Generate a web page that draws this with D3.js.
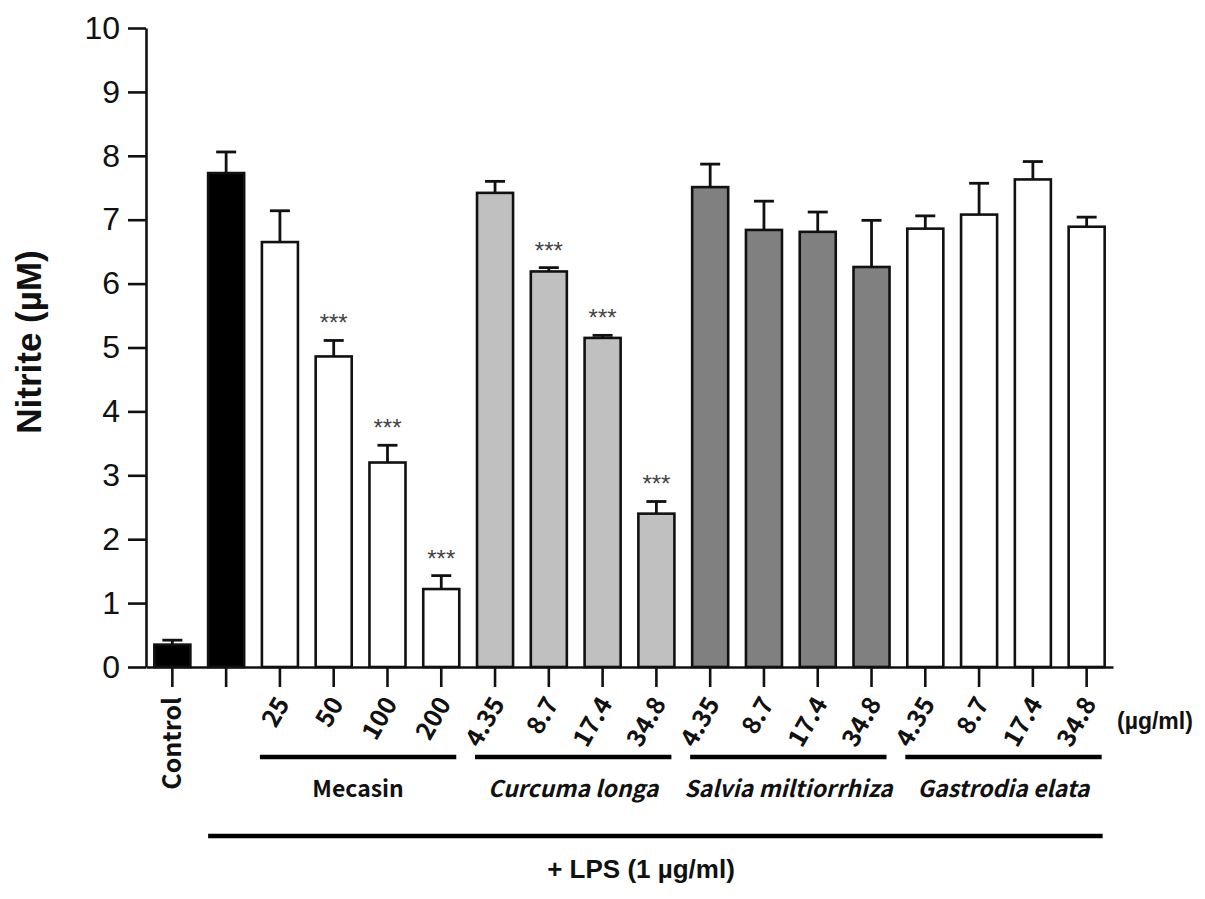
<!DOCTYPE html>
<html>
<head>
<meta charset="utf-8">
<script src="https://cdn.jsdelivr.net/npm/d3@7"></script>
<style>
  body { margin: 0; background: #fff; }
  svg { display: block; }
</style>
</head>
<body>
<script>
// bars, left to right
var keys = ["ctrl", "lps", "m25", "m50", "m100", "m200",
            "c4", "c8", "c17", "c34", "s4", "s8", "s17", "s34",
            "g4", "g8", "g17", "g34"];
var doseLabels = ["Control", "", "25", "50", "100", "200",
                  "4.35", "8.7", "17.4", "34.8", "4.35", "8.7", "17.4", "34.8",
                  "4.35", "8.7", "17.4", "34.8"];
var means = [0.35, 7.73, 6.65, 4.86, 3.20, 1.22,
             7.42, 6.19, 5.15, 2.40, 7.51, 6.84, 6.81, 6.26,
             6.86, 7.08, 7.63, 6.89];
var sems = [0.07, 0.33, 0.49, 0.25, 0.27, 0.21,
            0.18, 0.06, 0.04, 0.19, 0.36, 0.45, 0.31, 0.73,
            0.20, 0.49, 0.28, 0.15];
var fills = ["#000", "#000", "#fff", "#fff", "#fff", "#fff",
             "#c0c0c0", "#c0c0c0", "#c0c0c0", "#c0c0c0",
             "#808080", "#808080", "#808080", "#808080",
             "#fff", "#fff", "#fff", "#fff"];
var stars = ["", "", "", "***", "***", "***", "", "***", "***", "***",
             "", "", "", "", "", "", "", ""];
var yTicks = [0, 1, 2, 3, 4, 5, 6, 7, 8, 9, 10];

var groups = [
  {name: "Mecasin", first: "m25", last: "m200"},
  {name: "Curcuma longa", first: "c4", last: "c34"},
  {name: "Salvia miltiorrhiza", first: "s4", last: "s34"},
  {name: "Gastrodia elata", first: "g4", last: "g34"}
];

var svg = d3.select("body")
      .append("svg")
      .attr("width", 1205)
      .attr("height", 899)

var x = d3.scaleBand()
    .domain(keys)
    .range([146, 1113])
    .paddingInner(0.33)
    .paddingOuter(0.155);

var y = d3.scaleLinear()
    .domain([0, 10])
    .range([667, 28]);

var labelFont = "'Noto Sans CJK KR', 'Noto Sans', sans-serif";
var axisFont = "'Liberation Sans', Arial, sans-serif";

// bars
svg.append("g")
  .selectAll("rect")
  .data(keys)
  .enter().append("rect")
  .attr("x", function(d) { return x(d); })
  .attr("y", function(d, i) { return y(means[i]); })
  .attr("width", x.bandwidth())
  .attr("height", function(d, i) { return y(0) - y(means[i]); })
  .attr("fill", function(d, i) { return fills[i]; })
  .attr("stroke", "#111")
  .attr("stroke-width", 2.6);

// error bars (upper only)
var err = svg.append("g")
  .attr("stroke", "#111")
  .attr("stroke-width", 2.8);
keys.forEach(function(k, i) {
  var cx = x(k) + x.bandwidth() / 2;
  var top = y(means[i] + sems[i]);
  err.append("line")
    .attr("x1", cx).attr("x2", cx)
    .attr("y1", y(means[i])).attr("y2", top);
  err.append("line")
    .attr("x1", cx - 10).attr("x2", cx + 10)
    .attr("y1", top).attr("y2", top);
  if (stars[i]) {
    svg.append("text")
      .attr("x", cx)
      .attr("y", top - 9)
      .attr("text-anchor", "middle")
      .style("font-family", axisFont)
      .style("font-size", "24px")
      .attr("fill", "#444")
      .text(stars[i]);
  }
});

// y axis
var yAxis = svg.append("g")
  .attr("transform", "translate(146,0)")
  .call(d3.axisLeft(y).tickValues(yTicks).tickSize(18).tickPadding(8).tickSizeOuter(0));
yAxis.select(".domain").attr("stroke", "#111").attr("stroke-width", 2.6);
yAxis.selectAll(".tick line").attr("stroke", "#111").attr("stroke-width", 2.6);
yAxis.selectAll(".tick text")
  .style("font-family", axisFont)
  .style("font-size", "32px")
  .attr("fill", "#111");

// x axis
var xAxis = svg.append("g")
  .attr("transform", "translate(0,667)")
  .call(d3.axisBottom(x).tickSize(20).tickSizeOuter(0).tickFormat(""));
xAxis.select(".domain").attr("stroke", "#111").attr("stroke-width", 2.6);
xAxis.selectAll(".tick line").attr("stroke", "#111").attr("stroke-width", 2.6);

// dose labels
keys.forEach(function(k, i) {
  if (!doseLabels[i]) return;
  var cx = x(k) + x.bandwidth() / 2;
  var t = svg.append("text")
    .attr("text-anchor", "end")
    .attr("dy", "0.35em")
    .style("font-family", labelFont)
    .style("font-weight", "bold")
    .style("font-size", "25px")
    .attr("fill", "#111")
    .text(doseLabels[i]);
  if (i === 0) {
    t.attr("transform", "translate(" + cx + ",697) rotate(-90)");
  } else {
    t.attr("transform", "translate(" + (cx + 3) + ",699) rotate(-60)");
  }
});

svg.append("text")
  .attr("x", 1117)
  .attr("y", 729)
  .style("font-family", axisFont)
  .style("font-weight", "bold")
  .style("font-size", "23px")
  .attr("fill", "#111")
  .text("(µg/ml)");

// group brackets
groups.forEach(function(g) {
  var x1 = x(g.first) - 2;
  var x2 = x(g.last) + x.bandwidth() - 3;
  svg.append("line")
    .attr("x1", x1).attr("x2", x2)
    .attr("y1", 757).attr("y2", 757)
    .attr("stroke", "#000")
    .attr("stroke-width", 4.5);
  svg.append("text")
    .attr("x", (x1 + x2) / 2)
    .attr("y", 797)
    .attr("text-anchor", "middle")
    .style("font-family", labelFont)
    .style("font-weight", "bold")
    .style("font-style", g.name === "Mecasin" ? "normal" : "italic")
    .style("font-size", "23px")
    .attr("fill", "#111")
    .text(g.name);
});

// LPS bracket
var lx1 = x("lps");
var lx2 = x("g34") + x.bandwidth() - 2;
svg.append("line")
  .attr("x1", lx1).attr("x2", lx2)
  .attr("y1", 836).attr("y2", 836)
  .attr("stroke", "#000")
  .attr("stroke-width", 4.5);
svg.append("text")
  .attr("x", 641)
  .attr("y", 878)
  .attr("text-anchor", "middle")
  .style("font-family", axisFont)
  .style("font-weight", "bold")
  .style("font-size", "26px")
  .attr("fill", "#111")
  .text("+ LPS (1 µg/ml)");

// y title
svg.append("text")
  .attr("transform", "translate(28,342) rotate(-90)")
  .attr("text-anchor", "middle")
  .attr("dy", "0.36em")
  .style("font-family", axisFont)
  .style("font-weight", "bold")
  .style("font-size", "35px")
  .attr("fill", "#111")
  .text("Nitrite (µM)");
</script>
</body>
</html>
